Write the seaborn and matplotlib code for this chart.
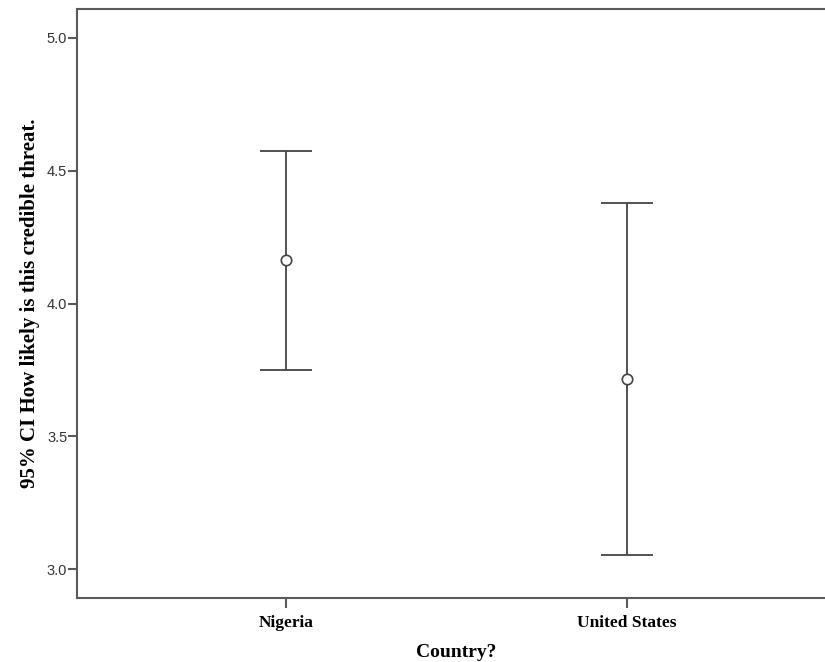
import numpy as np
import pandas as pd
import matplotlib.pyplot as plt
import seaborn as sns

sns.set_theme(style="white")

# values (95% CI of the mean)
countries = ["Nigeria", "United States"]
means = [4.164, 3.716]
ci_low = [3.750, 3.053]
ci_high = [4.574, 4.379]
y_ticks = [3.0, 3.5, 4.0, 4.5, 5.0]

df = pd.DataFrame({"Country": countries, "Mean": means})

fig = plt.figure(figsize=(8.25, 6.62), dpi=100)
# axes runs past the right edge like the cropped original
ax = fig.add_axes([77 / 825, 64 / 662, (836 - 77) / 825, (598 - 9) / 662])

line_col = "#444444"
sns.pointplot(data=df, x="Country", y="Mean", linestyle="none", marker="o",
              markersize=7.5, markerfacecolor="white", markeredgecolor=line_col,
              markeredgewidth=1.2, color=line_col, errorbar=None, ax=ax, zorder=3)

lower_err = np.array(means) - np.array(ci_low)
upper_err = np.array(ci_high) - np.array(means)
ax.errorbar(countries, means, yerr=[lower_err, upper_err], fmt="none",
            ecolor=line_col, elinewidth=1.3, capsize=18.4, capthick=1.3, zorder=2)

ax.set_xlim(-0.613, 1.613)
ax.set_ylim(2.891, 5.109)
ax.set_yticks(y_ticks)
ax.set_yticklabels([f"{v:.1f}" for v in y_ticks])

for s in ["left", "bottom", "top", "right"]:
    ax.spines[s].set_color("#5a5a5a")
    ax.spines[s].set_linewidth(1.5)

ax.tick_params(axis="both", direction="out", width=1.5, color="#5a5a5a",
               left=True, bottom=True)
ax.tick_params(axis="y", length=6.5, labelsize=10.5, labelcolor="#333333", pad=0.5)
ax.tick_params(axis="x", length=7.5, pad=5)
for lab in ax.get_yticklabels():
    lab.set_family("Liberation Sans")
for lab in ax.get_xticklabels():
    lab.set_family("Liberation Serif")
    lab.set_fontweight("bold")
    lab.set_fontsize(12.5)
    lab.set_color("black")

ax.set_xlabel("Country?", family="Liberation Serif", fontweight="bold",
              fontsize=14, color="black", labelpad=9)
ax.set_ylabel("95% CI How likely is this credible threat.", family="Liberation Serif",
              fontweight="bold", fontsize=15, color="black", labelpad=5)

fig.savefig("out.png", dpi=100)
